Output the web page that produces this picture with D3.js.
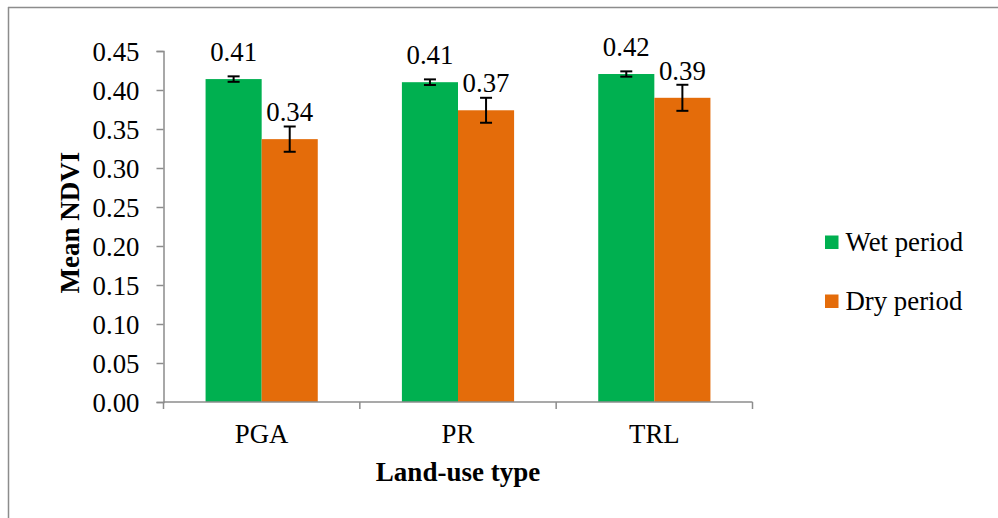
<!DOCTYPE html>
<html>
<head>
<meta charset="utf-8">
<script src="https://cdn.jsdelivr.net/npm/d3@7"></script>
<style>
  html, body { margin: 0; padding: 0; background: #fff; }
  svg { display: block; }
</style>
</head>
<body>
<svg id="chart" width="998" height="518"></svg>
<script>
const categories = ["PGA", "PR", "TRL"];
const seriesNames = ["Wet period", "Dry period"];
const wetValues = [0.414, 0.410, 0.4205];
const dryValues = [0.337, 0.374, 0.390];
const wetErrors = [0.0035, 0.0036, 0.0034];
const dryErrors = [0.0162, 0.0160, 0.0167];
const wetLabels = ["0.41", "0.41", "0.42"];
const dryLabels = ["0.34", "0.37", "0.39"];
const yTicks = [0, 0.05, 0.10, 0.15, 0.20, 0.25, 0.30, 0.35, 0.40, 0.45];
const colors = ["#00B050", "#E46C0A"];

const FONT = "'Liberation Serif', 'Times New Roman', Tinos, serif";
const FS = "26.8px";
const svg = d3.select("#chart");
const W = 998, H = 518;
const plot = { left: 163.5, right: 752.5, top: 51, bottom: 402 };
const axisColor = "#8c8c8c";

// outer frame (top and left edges visible)
svg.append("line").attr("x1", 8).attr("x2", W).attr("y1", 7.5).attr("y2", 7.5)
  .attr("stroke", axisColor).attr("stroke-width", 1.5);
svg.append("line").attr("x1", 8.5).attr("x2", 8.5).attr("y1", 7).attr("y2", H)
  .attr("stroke", axisColor).attr("stroke-width", 1.5);

const x0 = d3.scaleBand().domain(categories).range([plot.left, plot.right]).paddingInner(0).paddingOuter(0);
const x1 = d3.scaleBand().domain(seriesNames).range([0, x0.bandwidth()]).paddingInner(0).paddingOuter(0.75);
const y = d3.scaleLinear().domain([0, 0.45]).range([plot.bottom, plot.top]);

const data = categories.map((c, i) => ({
  cat: c,
  vals: [
    { s: seriesNames[0], v: wetValues[i], e: wetErrors[i], lab: wetLabels[i], col: colors[0] },
    { s: seriesNames[1], v: dryValues[i], e: dryErrors[i], lab: dryLabels[i], col: colors[1] }
  ]
}));

// bars
const groups = svg.append("g").selectAll("g").data(data).join("g")
  .attr("transform", d => `translate(${x0(d.cat)},0)`);

groups.selectAll("rect").data(d => d.vals).join("rect")
  .attr("x", d => x1(d.s))
  .attr("width", x1.bandwidth())
  .attr("y", d => y(d.v))
  .attr("height", d => y(0) - y(d.v))
  .attr("fill", d => d.col);

// axes
const yAxis = d3.axisLeft(y).tickValues(yTicks).tickFormat(d3.format(".2f")).tickSize(7).tickPadding(17);
const gy = svg.append("g").attr("transform", `translate(${plot.left},0)`).call(yAxis);
gy.select(".domain").attr("stroke", axisColor).attr("stroke-width", 1.5);
gy.selectAll(".tick line").attr("stroke", axisColor).attr("stroke-width", 1.5);
gy.selectAll(".tick text")
  .style("font-family", FONT).style("font-size", FS)
  .attr("fill", "#000").attr("dy", "0.34em");

const xEdge = d3.scaleLinear().domain([0, categories.length]).range([plot.left, plot.right]);
const gx = svg.append("g");
gx.append("line").attr("x1", plot.left).attr("x2", plot.right).attr("y1", plot.bottom).attr("y2", plot.bottom)
  .attr("stroke", axisColor).attr("stroke-width", 1.5);
gx.selectAll("line.tk").data(d3.range(categories.length + 1)).join("line").attr("class", "tk")
  .attr("x1", d => xEdge(d)).attr("x2", d => xEdge(d))
  .attr("y1", plot.bottom).attr("y2", plot.bottom + 7)
  .attr("stroke", axisColor).attr("stroke-width", 1.5);
gx.selectAll("text").data(categories).join("text")
  .attr("x", d => x0(d) + x0.bandwidth() / 2)
  .attr("y", 443)
  .attr("text-anchor", "middle")
  .style("font-family", FONT).style("font-size", FS)
  .attr("fill", "#000")
  .text(d => d);

// error bars
const eb = groups.selectAll("g.err").data(d => d.vals).join("g").attr("class", "err");
const cx = d => x1(d.s) + x1.bandwidth() / 2;
eb.append("line")
  .attr("x1", cx).attr("x2", cx)
  .attr("y1", d => y(d.v + d.e)).attr("y2", d => y(d.v - d.e))
  .attr("stroke", "#000").attr("stroke-width", 2);
eb.append("line")
  .attr("x1", d => cx(d) - 6).attr("x2", d => cx(d) + 6)
  .attr("y1", d => y(d.v + d.e)).attr("y2", d => y(d.v + d.e))
  .attr("stroke", "#000").attr("stroke-width", 2);
eb.append("line")
  .attr("x1", d => cx(d) - 6).attr("x2", d => cx(d) + 6)
  .attr("y1", d => y(d.v - d.e)).attr("y2", d => y(d.v - d.e))
  .attr("stroke", "#000").attr("stroke-width", 2);

// data labels
groups.selectAll("text.val").data(d => d.vals).join("text").attr("class", "val")
  .attr("x", cx)
  .attr("y", d => y(d.v) - 18)
  .attr("text-anchor", "middle")
  .style("font-family", FONT).style("font-size", FS)
  .attr("fill", "#000")
  .text(d => d.lab);

// axis titles
svg.append("text")
  .attr("transform", "translate(78.5,222.5) rotate(-90)")
  .attr("text-anchor", "middle")
  .style("font-family", FONT).style("font-size", "27px").style("font-weight", "bold")
  .attr("fill", "#000")
  .text("Mean NDVI");
svg.append("text")
  .attr("x", (plot.left + plot.right) / 2)
  .attr("y", 481)
  .attr("text-anchor", "middle")
  .style("font-family", FONT).style("font-size", "27px").style("font-weight", "bold")
  .attr("fill", "#000")
  .text("Land-use type");

// legend
const legY = d3.scalePoint().domain(seriesNames).range([242, 301]);
const leg = svg.append("g").selectAll("g").data(seriesNames).join("g")
  .attr("transform", d => `translate(825,${legY(d)})`);
leg.append("rect").attr("x", 0).attr("y", -6.5).attr("width", 13.5).attr("height", 13.5)
  .attr("fill", (d, i) => colors[i]);
leg.append("text").attr("x", 20.5).attr("y", 8.5)
  .style("font-family", FONT).style("font-size", FS)
  .attr("fill", "#000")
  .text(d => d);
</script>
</body>
</html>
